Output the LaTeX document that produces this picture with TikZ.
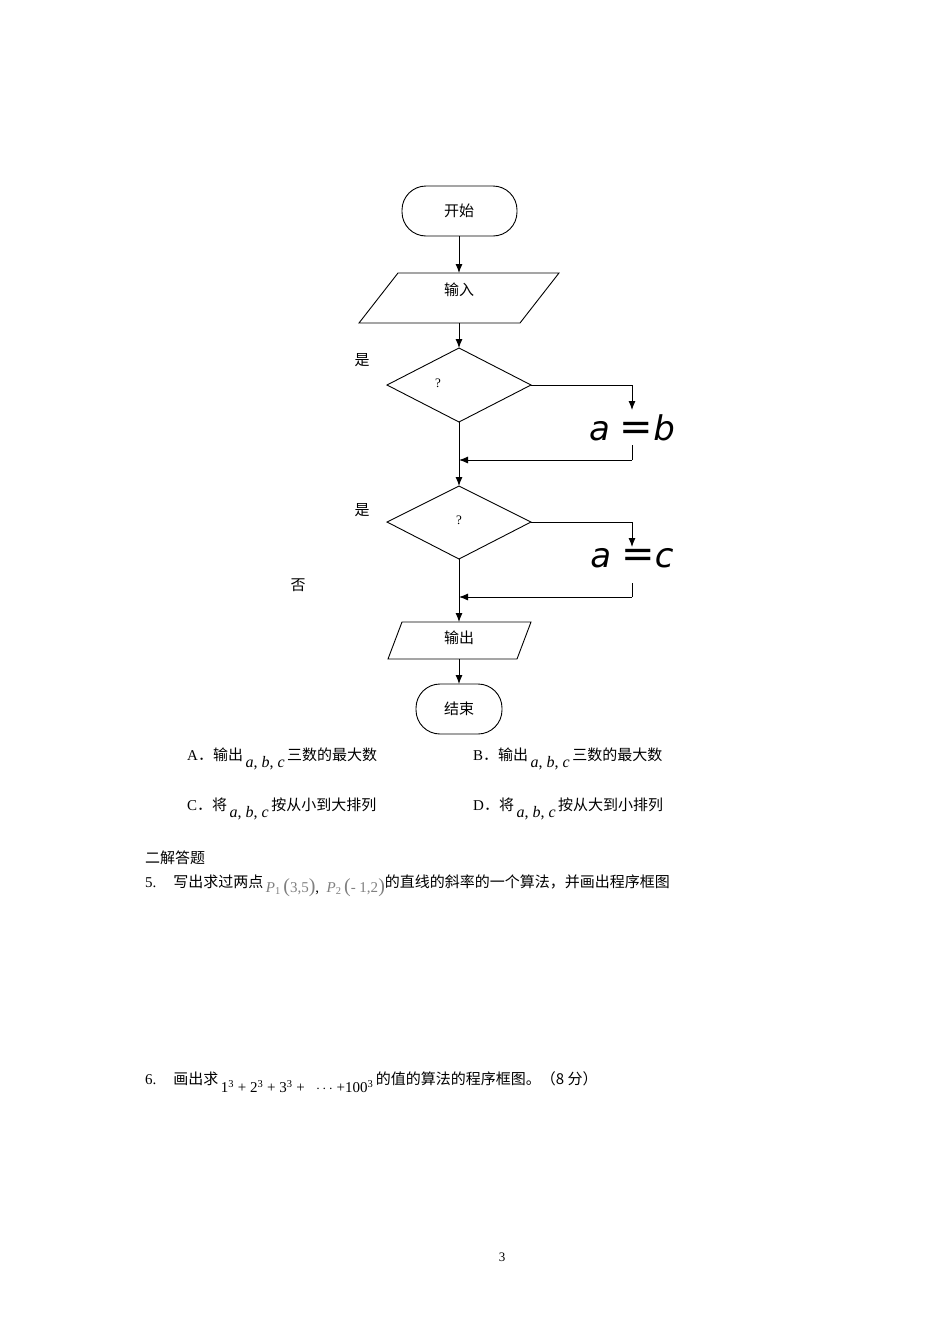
\documentclass[tikz,border=0pt]{standalone}
\usepackage{fontspec}
\setmainfont{Liberation Serif}
\newfontfamily\cjk{Noto Sans CJK SC}
\newfontfamily\bigsans{DejaVu Sans}
\usetikzlibrary{arrows.meta}
\tikzset{x=1pt,y=-1pt,
 flow/.style={draw,line width=0.9pt},
 arr/.style={line width=0.9pt,-{Latex[length=9pt,width=7pt]}},
 ln/.style={line width=0.9pt},
 txt/.style={font=\fontsize{15}{18}\selectfont\cjk,inner sep=0pt},
 big/.style={font=\fontsize{34}{36}\selectfont\bigsans\itshape,inner sep=0pt}}
\newcommand{\abc}{\,\raisebox{-7pt}{\fontsize{16}{18}\selectfont\textit{a}, \textit{b}, \textit{c}}\,}
\begin{document}
\begin{tikzpicture}
\useasboundingbox (0,0) rectangle (950,1344);
% start
\draw[flow,rounded corners=24pt] (402,186) rectangle (517,236);
\node[txt] (start) at (459,211) {开始};
\coordinate (sb) at (459,236);
% input
\draw[flow] (398,273) -- (559,273) -- (520,323) -- (359,323) -- cycle;
\node[txt] (inp) at (459,290) {输入};
\coordinate (it) at (459,273); \coordinate (ib) at (459,323);
\draw[arr] (sb) -- (it);
% diamond 1
\draw[flow] (459,348) -- (531,385) -- (459,422) -- (387,385) -- cycle;
\coordinate (d1t) at (459,348); \coordinate (d1r) at (531,385); \coordinate (d1b) at (459,422);
\node[font=\fontsize{13}{15}\selectfont,inner sep=0pt] (q1) at (438,383) {?};
\draw[arr] (ib) -- (d1t);
\coordinate (c1) at (632,385); \coordinate (c1e) at (632,410);
\draw[ln] (d1r) -- (c1); \draw[arr] (c1) -- (c1e);
\node[big] (ab) at (632,428) {a\hspace{10pt}{\upshape\fontsize{40}{40}\selectfont=}b};
\coordinate (c2) at (632,445); \coordinate (c3) at (632,460); \coordinate (m1) at (459,460);
\draw[ln] (c2) -- (c3); \draw[arr] (c3) -- (m1);
% diamond 2
\draw[flow] (459,486) -- (531,522) -- (459,559) -- (387,522) -- cycle;
\coordinate (d2t) at (459,486); \coordinate (d2r) at (531,522); \coordinate (d2b) at (459,559);
\node[font=\fontsize{13}{15}\selectfont,inner sep=0pt] (q2) at (459,520) {?};
\draw[arr] (d1b) -- (d2t);
\coordinate (e1) at (632,522); \coordinate (e1e) at (632,547);
\draw[ln] (d2r) -- (e1); \draw[arr] (e1) -- (e1e);
\node[big] (ac) at (632,558) {a\hspace{10pt}{\upshape\fontsize{40}{40}\selectfont=}c};
\coordinate (e2) at (632,583); \coordinate (e3) at (632,597); \coordinate (m2) at (459,597);
\draw[ln] (e2) -- (e3); \draw[arr] (e3) -- (m2);
% output
\draw[flow] (402,622) -- (531,622) -- (517,659) -- (388,659) -- cycle;
\node[txt] (out) at (459,638) {输出};
\coordinate (ot) at (459,622); \coordinate (ob) at (459,659);
\draw[arr] (d2b) -- (ot);
% end
\draw[flow,rounded corners=24pt] (416,684) rectangle (502,734);
\node[txt] (end) at (459,709) {结束};
\draw[arr] (ob) -- (459,684);
% labels
\node[txt] (y1) at (362,360) {是};
\node[txt] (y2) at (362,510) {是};
\node[txt] (n1) at (298,585) {否};
% options
\tikzset{opt/.style={anchor=west,inner sep=0pt,font=\fontsize{15}{18}\selectfont}}
\node[opt] (A) at (187,759) {A{\cjk ．}{\cjk 输出}\abc{\cjk 三数的最大数}};
\node[opt] (B) at (473,759) {B{\cjk ．}{\cjk 输出}\abc{\cjk 三数的最大数}};
\node[opt] (C) at (187,809) {C{\cjk ．}{\cjk 将}\abc{\cjk 按从小到大排列}};
\node[opt] (D) at (473,809) {D{\cjk ．}{\cjk 将}\abc{\cjk 按从大到小排列}};
\node[opt] (h) at (145,858) {\cjk 二解答题};
\node[opt] (q5) at (145,886) {5.\hspace{17pt}{\cjk 写出求过两点}\,\raisebox{-5pt}{\color{gray}\textit{P}\textsubscript{1}\,{\fontsize{20}{20}\selectfont(}3,5{\fontsize{20}{20}\selectfont)}\textcolor{black}{,}\ \ \textit{P}\textsubscript{2}\,{\fontsize{20}{20}\selectfont(}- 1,2{\fontsize{20}{20}\selectfont)}}{\cjk 的直线的斜率的一个算法，并画出程序框图}};
\node[opt] (q6) at (145,1082) {6.\hspace{17pt}{\cjk 画出求}\,\raisebox{-8pt}{1\textsuperscript{3} + 2\textsuperscript{3} + 3\textsuperscript{3} + \ \ $\cdots$ +100\textsuperscript{3}}\,{\cjk 的值的算法的程序框图。（8 分）}};
\node[font=\fontsize{13}{15}\selectfont,inner sep=0pt] (pg) at (502,1257) {3};
\end{tikzpicture}
\end{document}
